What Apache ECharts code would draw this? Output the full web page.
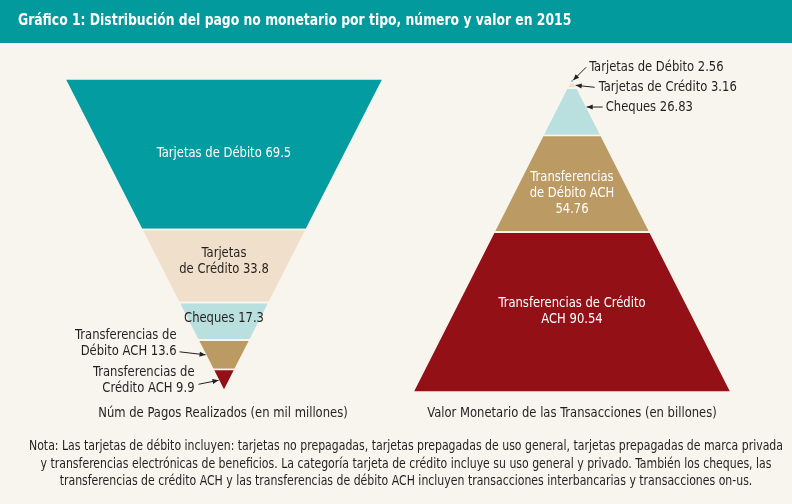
<!DOCTYPE html>
<html><head><meta charset="utf-8">
<script src="https://cdn.jsdelivr.net/npm/echarts@6/dist/echarts.min.js"></script>
<style>html,body{margin:0;padding:0;background:#f7f5ee}#c{width:792px;height:504px}</style>
</head><body><div id="c"></div>
<script>
// ---- data ----
const leftCategories = ['Tarjetas de Débito', 'Tarjetas de Crédito', 'Cheques', 'Transferencias de Débito ACH', 'Transferencias de Crédito ACH'];
const leftValues = [69.5, 33.8, 17.3, 13.6, 9.9];
const leftLabelTemplates = ['Tarjetas de Débito {v}', 'Tarjetas\nde Crédito {v}', 'Cheques {v}', 'Transferencias de\nDébito ACH {v}', 'Transferencias de\nCrédito ACH {v}'];
const rightCategories = ['Tarjetas de Débito', 'Tarjetas de Crédito', 'Cheques', 'Transferencias de Débito ACH', 'Transferencias de Crédito ACH'];
const rightValues = [2.56, 3.16, 26.83, 54.76, 90.54];
const rightLabelTemplates = ['Tarjetas de Débito {v}', 'Tarjetas de Crédito {v}', 'Cheques {v}', 'Transferencias\nde Débito ACH\n{v}', 'Transferencias de Crédito\nACH {v}'];
const titleText = 'Gráfico 1: Distribución del pago no monetario por tipo, número y valor en 2015';
const leftCaption = 'Núm de Pagos Realizados (en mil millones)';
const rightCaption = 'Valor Monetario de las Transacciones (en billones)';
const noteText = 'Nota: Las tarjetas de débito incluyen: tarjetas no prepagadas, tarjetas prepagadas de uso general, tarjetas prepagadas de marca privada\ny transferencias electrónicas de beneficios. La categoría tarjeta de crédito incluye su uso general y privado. También los cheques, las\ntransferencias de crédito ACH y las transferencias de débito ACH incluyen transacciones interbancarias y transacciones on-us.';

// ---- styles ----
const segColorsLeft = ['#039ca1', '#f0e0cb', '#b9dfdf', '#bb9a64', '#931016'];
const segColorsRight = ['#039ca1', '#f0e0cb', '#b9dfdf', '#bb9a64', '#931016'];
const BG = '#f7f5ee';
const FONT = '"Liberation Sans Narrow","DejaVu Sans Condensed","Arial Narrow",sans-serif';
const DARK = '#231f20';
const LABEL_SX = 0.92;
const leftLabelStyle = [
  {type: 'inside', color: '#ffffff', dy: -1},
  {type: 'inside', color: DARK, dy: -5},
  {type: 'inside', color: DARK, dy: -3},
  {type: 'outLeft', frac: 0.5, sx: -26, sy: -3, tx: -3, ty: 0},
  {type: 'outLeft', frac: 0.5, sx: -20, sy: 4, tx: -4, ty: 4}
];
const rightLabelStyle = [
  {type: 'outRight', frac: 0.5, sx: 13, sy: -13, tx: 3, ty: 0},
  {type: 'outRight', frac: 0.5, sx: 19, sy: 2, tx: 4, ty: 0},
  {type: 'outRight', frac: 0.4, sx: 16, sy: 0, tx: 3, ty: 0},
  {type: 'inside', color: '#ffffff', dy: 10},
  {type: 'inside', color: '#ffffff', dy: -1}
];

function sum(a) { return a.reduce((s, x) => s + x, 0); }
function fmt(t, v) { return t.replace('{v}', String(v)); }

function arrowHead(tip, from) {
  const dx = tip[0] - from[0], dy = tip[1] - from[1];
  const L = Math.sqrt(dx * dx + dy * dy) || 1;
  const ux = dx / L, uy = dy / L;
  const len = 6, w = 2.5;
  const bx = tip[0] - ux * len, by = tip[1] - uy * len;
  return {type: 'polygon', shape: {points: [tip, [bx - uy * w, by + ux * w], [bx + uy * w, by - ux * w]]}, style: {fill: DARK}};
}

function makeRender(values, labels, colors, lstyles, inverted) {
  const T = sum(values);
  return function (params, api) {
    const i = params.dataIndex;
    const before = sum(values.slice(0, i));
    let l1, l2;
    if (inverted) { l1 = T - before; l2 = l1 - values[i]; }
    else { l1 = before; l2 = before + values[i]; }
    const pts = [
      api.coord([-l1 / T, l1]), api.coord([l1 / T, l1]),
      api.coord([l2 / T, l2]), api.coord([-l2 / T, l2])
    ];
    const children = [{
      type: 'polygon', shape: {points: pts},
      style: {fill: colors[i], stroke: BG, lineWidth: 1.6, lineJoin: 'miter'}
    }];
    const ls = lstyles[i];
    const txt = fmt(labels[i], values[i]);
    if (ls.type === 'inside') {
      const mid = (l1 + l2) / 2;
      const c = api.coord([0, mid]);
      children.push({type: 'text', x: c[0], y: c[1] + ls.dy, scaleX: LABEL_SX, style: {
        text: txt, fill: ls.color, font: '14px ' + FONT, align: 'center', verticalAlign: 'middle', lineHeight: 16
      }});
    } else {
      const lev = l1 + (l2 - l1) * ls.frac;
      const side = ls.type === 'outLeft' ? -1 : 1;
      const tip = api.coord([side * lev / T, lev]);
      const start = [tip[0] + ls.sx, tip[1] + ls.sy];
      children.push({type: 'line', shape: {x1: start[0], y1: start[1], x2: tip[0], y2: tip[1]}, style: {stroke: DARK, lineWidth: 1}});
      children.push(arrowHead(tip, start));
      children.push({type: 'text', x: start[0] + ls.tx, y: start[1] + ls.ty + 8, scaleX: LABEL_SX, style: {
        text: txt, fill: DARK, font: '14px ' + FONT, align: side < 0 ? 'right' : 'left', verticalAlign: 'bottom', lineHeight: 16
      }});
    }
    return {type: 'group', children: children};
  };
}

const chart = echarts.init(document.getElementById('c'), null, {renderer: 'canvas'});
const Tl = sum(leftValues), Tr = sum(rightValues);
chart.setOption({
  backgroundColor: BG,
  animation: false,
  grid: [
    {left: 65, top: 79, width: 318, height: 312},
    {left: 413, top: 78, width: 318, height: 314}
  ],
  xAxis: [
    {gridIndex: 0, type: 'value', min: -1, max: 1, show: false},
    {gridIndex: 1, type: 'value', min: -1, max: 1, show: false}
  ],
  yAxis: [
    {gridIndex: 0, type: 'value', min: 0, max: Tl, show: false},
    {gridIndex: 1, type: 'value', min: 0, max: Tr, inverse: true, show: false}
  ],
  graphic: [
    {type: 'rect', x: 0, y: 0, shape: {width: 792, height: 43}, style: {fill: '#029a9d'}, silent: true},
    {type: 'text', x: 18, y: 21, scaleX: 0.86, style: {text: titleText, fill: '#ffffff', font: 'bold 16px ' + FONT, align: 'left', verticalAlign: 'middle'}},
    {type: 'text', x: 223, y: 413, scaleX: 0.92, style: {text: leftCaption, fill: DARK, font: '14px ' + FONT, align: 'center', verticalAlign: 'middle'}},
    {type: 'text', x: 572, y: 413, scaleX: 0.92, style: {text: rightCaption, fill: DARK, font: '14px ' + FONT, align: 'center', verticalAlign: 'middle'}},
    {type: 'text', x: 406, y: 464, scaleX: 0.9, style: {text: noteText, fill: DARK, font: '13.5px ' + FONT, align: 'center', verticalAlign: 'middle', lineHeight: 17.5}}
  ],
  series: [
    {type: 'custom', name: 'Núm de Pagos', xAxisIndex: 0, yAxisIndex: 0,
     data: leftCategories.map((c, i) => ({name: c, value: [0, leftValues[i]]})),
     renderItem: makeRender(leftValues, leftLabelTemplates, segColorsLeft, leftLabelStyle, true)},
    {type: 'custom', name: 'Valor Monetario', xAxisIndex: 1, yAxisIndex: 1,
     data: rightCategories.map((c, i) => ({name: c, value: [0, rightValues[i]]})),
     renderItem: makeRender(rightValues, rightLabelTemplates, segColorsRight, rightLabelStyle, false)}
  ]
});
</script></body></html>
